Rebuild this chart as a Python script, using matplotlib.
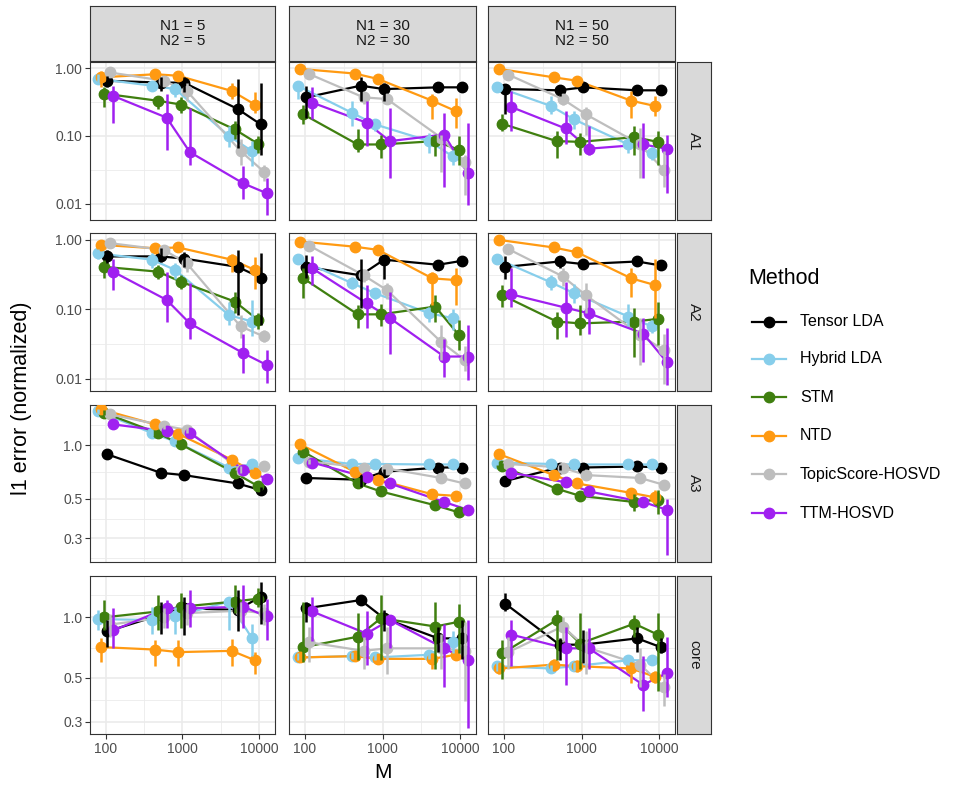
import matplotlib
matplotlib.use("Agg")
import matplotlib.pyplot as plt
from matplotlib.lines import Line2D
import numpy as np

plt.rcParams['font.family'] = ['Liberation Sans', 'DejaVu Sans']

# ---- data: per panel, method -> [mean, lower, upper] over M ----
M = [100, 500, 1000, 5000, 10000]
methods = ["Tensor LDA", "Hybrid LDA", "STM", "NTD", "TopicScore-HOSVD", "TTM-HOSVD"]
row_names = ["A1", "A2", "A3", "core"]
col_names = ["N1 = 5\nN2 = 5", "N1 = 30\nN2 = 30", "N1 = 50\nN2 = 50"]

a1_n5 = {
    "Tensor LDA": [[0.65, 0.61, 0.61, 0.25, 0.148], [0.52, 0.46, 0.44, 0.067, 0.053], [0.77, 0.73, 0.73, 0.69, 0.61]],
    "Hybrid LDA": [[0.69, 0.55, 0.49, 0.10, 0.060], [0.58, 0.46, 0.37, 0.07, 0.036], [0.81, 0.65, 0.61, 0.14, 0.084]],
    "STM": [[0.42, 0.33, 0.29, 0.125, 0.077], [0.27, 0.25, 0.22, 0.089, 0.056], [0.52, 0.39, 0.37, 0.166, 0.099]],
    "NTD": [[0.73, 0.81, 0.77, 0.46, 0.29], [0.52, 0.75, 0.68, 0.35, 0.22], [0.91, 0.87, 0.86, 0.61, 0.44]],
    "TopicScore-HOSVD": [[0.86, 0.65, 0.46, 0.060, 0.030], [0.75, 0.55, 0.33, 0.038, 0.022], [0.95, 0.75, 0.61, 0.089, 0.038]],
    "TTM-HOSVD": [[0.39, 0.186, 0.058, 0.020, 0.0144], [0.157, 0.063, 0.038, 0.012, 0.0069], [0.55, 0.41, 0.26, 0.036, 0.024]],
}
a1_n30 = {
    "Tensor LDA": [[0.37, 0.55, 0.49, 0.52, 0.52], [0.186, 0.33, 0.33, 0.47, 0.47], [0.55, 0.73, 0.61, 0.57, 0.57]],
    "Hybrid LDA": [[0.55, 0.22, 0.148, 0.084, 0.050], [0.35, 0.14, 0.118, 0.056, 0.038], [0.65, 0.33, 0.176, 0.11, 0.063]],
    "STM": [[0.208, 0.075, 0.075, 0.084, 0.063], [0.148, 0.059, 0.048, 0.05, 0.038], [0.29, 0.125, 0.105, 0.105, 0.10]],
    "NTD": [[0.97, 0.83, 0.69, 0.33, 0.233], [0.9, 0.77, 0.62, 0.175, 0.132], [1.04, 0.9, 0.76, 0.41, 0.36]],
    "TopicScore-HOSVD": [[0.815, 0.37, 0.35, 0.094, 0.042], [0.75, 0.3, 0.3, 0.030, 0.0136], [0.88, 0.45, 0.42, 0.105, 0.053]],
    "TTM-HOSVD": [[0.31, 0.157, 0.084, 0.105, 0.0285], [0.176, 0.071, 0.024, 0.018, 0.0097], [0.52, 0.33, 0.26, 0.22, 0.157]],
}
a1_n50 = {
    "Tensor LDA": [[0.49, 0.47, 0.52, 0.47, 0.47], [0.208, 0.39, 0.44, 0.43, 0.40], [0.52, 0.55, 0.61, 0.52, 0.55]],
    "Hybrid LDA": [[0.53, 0.277, 0.175, 0.075, 0.056], [0.46, 0.21, 0.125, 0.056, 0.045], [0.6, 0.39, 0.23, 0.094, 0.07]],
    "STM": [[0.151, 0.084, 0.082, 0.096, 0.082], [0.118, 0.048, 0.053, 0.053, 0.038], [0.208, 0.118, 0.111, 0.14, 0.118]],
    "NTD": [[0.97, 0.73, 0.65, 0.33, 0.277], [0.9, 0.68, 0.6, 0.186, 0.2], [1.04, 0.78, 0.7, 0.46, 0.39]],
    "TopicScore-HOSVD": [[0.80, 0.35, 0.208, 0.075, 0.032], [0.74, 0.29, 0.105, 0.024, 0.018], [0.86, 0.42, 0.27, 0.133, 0.06]],
    "TTM-HOSVD": [[0.267, 0.129, 0.065, 0.075, 0.065], [0.118, 0.075, 0.053, 0.024, 0.0144], [0.46, 0.23, 0.14, 0.157, 0.105]],
}
a2_n5 = {
    "Tensor LDA": [[0.58, 0.58, 0.54, 0.41, 0.287], [0.47, 0.48, 0.41, 0.083, 0.06], [0.72, 0.76, 0.68, 0.72, 0.64]],
    "Hybrid LDA": [[0.64, 0.52, 0.37, 0.083, 0.067], [0.54, 0.39, 0.27, 0.06, 0.041], [0.75, 0.64, 0.46, 0.13, 0.137]],
    "STM": [[0.41, 0.35, 0.25, 0.13, 0.071], [0.28, 0.27, 0.2, 0.088, 0.052], [0.51, 0.44, 0.31, 0.18, 0.088]],
    "NTD": [[0.85, 0.76, 0.78, 0.52, 0.37], [0.72, 0.7, 0.7, 0.35, 0.2], [0.95, 0.82, 0.86, 0.62, 0.57]],
    "TopicScore-HOSVD": [[0.90, 0.72, 0.46, 0.057, 0.041], [0.82, 0.62, 0.35, 0.039, 0.034], [0.98, 0.8, 0.56, 0.083, 0.05]],
    "TTM-HOSVD": [[0.35, 0.137, 0.063, 0.0234, 0.0159], [0.19, 0.067, 0.037, 0.012, 0.0087], [0.54, 0.35, 0.24, 0.045, 0.026]],
}
a2_n30 = {
    "Tensor LDA": [[0.41, 0.31, 0.52, 0.44, 0.50], [0.28, 0.104, 0.27, 0.40, 0.46], [0.61, 0.54, 0.61, 0.48, 0.54]],
    "Hybrid LDA": [[0.54, 0.24, 0.171, 0.088, 0.075], [0.46, 0.2, 0.14, 0.066, 0.05], [0.62, 0.29, 0.2, 0.11, 0.1]],
    "STM": [[0.28, 0.085, 0.085, 0.11, 0.043], [0.145, 0.054, 0.057, 0.067, 0.026], [0.39, 0.116, 0.12, 0.16, 0.07]],
    "NTD": [[0.95, 0.80, 0.72, 0.28, 0.265], [0.88, 0.74, 0.66, 0.116, 0.116], [1.02, 0.86, 0.78, 0.35, 0.39]],
    "TopicScore-HOSVD": [[0.83, 0.31, 0.19, 0.034, 0.0188], [0.76, 0.25, 0.14, 0.019, 0.013], [0.9, 0.38, 0.24, 0.06, 0.03]],
    "TTM-HOSVD": [[0.39, 0.123, 0.075, 0.021, 0.021], [0.226, 0.054, 0.023, 0.0108, 0.0098], [0.58, 0.225, 0.18, 0.037, 0.06]],
}
a2_n50 = {
    "Tensor LDA": [[0.41, 0.49, 0.45, 0.49, 0.43], [0.27, 0.4, 0.41, 0.45, 0.39], [0.58, 0.58, 0.5, 0.53, 0.47]],
    "Hybrid LDA": [[0.54, 0.246, 0.171, 0.079, 0.057], [0.48, 0.19, 0.125, 0.057, 0.046], [0.6, 0.31, 0.23, 0.12, 0.07]],
    "STM": [[0.16, 0.067, 0.063, 0.067, 0.073], [0.11, 0.037, 0.043, 0.021, 0.031], [0.226, 0.093, 0.116, 0.104, 0.13]],
    "NTD": [[1.0, 0.78, 0.665, 0.28, 0.225], [0.93, 0.72, 0.6, 0.153, 0.075], [1.07, 0.84, 0.73, 0.39, 0.54]],
    "TopicScore-HOSVD": [[0.74, 0.30, 0.16, 0.043, 0.026], [0.67, 0.22, 0.09, 0.016, 0.0085], [0.81, 0.4, 0.24, 0.075, 0.045]],
    "TTM-HOSVD": [[0.165, 0.106, 0.088, 0.045, 0.0177], [0.11, 0.04, 0.045, 0.0177, 0.0082], [0.39, 0.25, 0.14, 0.075, 0.054]],
}
a3_n5 = {
    "Tensor LDA": [[0.89, 0.70, 0.68, 0.61, 0.56], [0.86, 0.68, 0.66, 0.59, 0.54], [0.92, 0.72, 0.70, 0.63, 0.58]],
    "Hybrid LDA": [[1.55, 1.17, 1.05, 0.75, 0.78], [1.50, 1.12, 1.01, 0.72, 0.74], [1.60, 1.22, 1.09, 0.78, 0.82]],
    "STM": [[1.52, 1.17, 1.01, 0.70, 0.59], [1.47, 1.12, 0.97, 0.67, 0.56], [1.57, 1.22, 1.05, 0.73, 0.62]],
    "NTD": [[1.59, 1.31, 1.16, 0.83, 0.70], [1.54, 1.26, 1.11, 0.79, 0.66], [1.64, 1.36, 1.21, 0.87, 0.74]],
    "TopicScore-HOSVD": [[1.49, 1.29, 1.22, 0.73, 0.76], [1.44, 1.24, 1.17, 0.70, 0.72], [1.54, 1.34, 1.27, 0.76, 0.80]],
    "TTM-HOSVD": [[1.31, 1.20, 1.17, 0.73, 0.65], [1.26, 1.15, 1.12, 0.69, 0.61], [1.36, 1.25, 1.22, 0.77, 0.69]],
}
a3_n30 = {
    "Tensor LDA": [[0.655, 0.64, 0.71, 0.75, 0.75], [0.63, 0.58, 0.68, 0.73, 0.73], [0.68, 0.68, 0.74, 0.77, 0.77]],
    "Hybrid LDA": [[0.85, 0.785, 0.785, 0.78, 0.78], [0.82, 0.76, 0.76, 0.76, 0.76], [0.88, 0.81, 0.81, 0.80, 0.80]],
    "STM": [[0.92, 0.61, 0.55, 0.46, 0.42], [0.89, 0.59, 0.53, 0.44, 0.40], [0.95, 0.63, 0.57, 0.48, 0.44]],
    "NTD": [[1.01, 0.71, 0.64, 0.53, 0.52], [0.98, 0.69, 0.62, 0.51, 0.50], [1.04, 0.73, 0.66, 0.55, 0.54]],
    "TopicScore-HOSVD": [[0.81, 0.75, 0.74, 0.655, 0.61], [0.78, 0.73, 0.72, 0.63, 0.59], [0.84, 0.77, 0.76, 0.68, 0.63]],
    "TTM-HOSVD": [[0.80, 0.66, 0.61, 0.48, 0.435], [0.77, 0.63, 0.59, 0.45, 0.41], [0.83, 0.69, 0.63, 0.51, 0.46]],
}
a3_n50 = {
    "Tensor LDA": [[0.63, 0.75, 0.75, 0.76, 0.75], [0.61, 0.73, 0.73, 0.74, 0.73], [0.65, 0.77, 0.77, 0.78, 0.77]],
    "Hybrid LDA": [[0.80, 0.785, 0.78, 0.78, 0.78], [0.77, 0.76, 0.76, 0.76, 0.76], [0.83, 0.81, 0.80, 0.80, 0.80]],
    "STM": [[0.76, 0.57, 0.52, 0.48, 0.495], [0.73, 0.55, 0.50, 0.43, 0.41], [0.79, 0.59, 0.54, 0.53, 0.56]],
    "NTD": [[0.89, 0.68, 0.61, 0.54, 0.51], [0.86, 0.66, 0.59, 0.52, 0.47], [0.92, 0.70, 0.63, 0.56, 0.56]],
    "TopicScore-HOSVD": [[0.785, 0.75, 0.68, 0.655, 0.60], [0.76, 0.73, 0.66, 0.63, 0.57], [0.81, 0.77, 0.70, 0.68, 0.63]],
    "TTM-HOSVD": [[0.70, 0.62, 0.55, 0.48, 0.435], [0.67, 0.60, 0.53, 0.45, 0.243], [0.73, 0.64, 0.57, 0.51, 0.50]],
}
core_n5 = {
    "Tensor LDA": [[0.85, 1.03, 1.11, 1.09, 1.27], [0.71, 0.83, 0.82, 0.85, 0.93], [0.97, 1.20, 1.27, 1.37, 1.51]],
    "Hybrid LDA": [[0.98, 0.97, 1.01, 1.20, 0.785], [0.86, 0.83, 0.83, 0.86, 0.64], [1.09, 1.13, 1.13, 1.27, 0.93]],
    "STM": [[1.0, 1.07, 1.13, 1.20, 1.24], [0.86, 0.86, 0.88, 1.05, 1.13], [1.22, 1.29, 1.32, 1.45, 1.40]],
    "NTD": [[0.71, 0.69, 0.67, 0.68, 0.61], [0.60, 0.57, 0.57, 0.57, 0.52], [0.79, 0.77, 0.77, 0.78, 0.67]],
    "TopicScore-HOSVD": [[0.92, 1.0, 1.05, 1.08, 1.05], [0.80, 0.88, 0.92, 0.95, 0.92], [1.04, 1.12, 1.17, 1.20, 1.17]],
    "TTM-HOSVD": [[0.86, 1.11, 1.11, 1.13, 1.01], [0.70, 0.88, 0.90, 0.88, 0.77], [1.11, 1.22, 1.37, 1.45, 1.24]],
}
core_n30 = {
    "Tensor LDA": [[1.11, 1.22, 0.99, 0.785, 0.785], [0.95, 1.15, 0.85, 0.67, 0.62], [1.20, 1.29, 1.09, 0.90, 0.97]],
    "Hybrid LDA": [[0.63, 0.64, 0.63, 0.65, 0.755], [0.61, 0.62, 0.61, 0.62, 0.66], [0.66, 0.67, 0.66, 0.68, 0.85]],
    "STM": [[0.71, 0.80, 0.99, 0.90, 0.95], [0.60, 0.61, 0.61, 0.55, 0.66], [1.20, 1.05, 1.29, 1.20, 1.17]],
    "NTD": [[0.63, 0.64, 0.62, 0.62, 0.65], [0.60, 0.61, 0.59, 0.55, 0.62], [0.66, 0.67, 0.65, 0.66, 0.68]],
    "TopicScore-HOSVD": [[0.75, 0.68, 0.70, 0.70, 0.68], [0.60, 0.55, 0.52, 0.55, 0.38], [0.90, 0.80, 0.90, 0.83, 0.95]],
    "TTM-HOSVD": [[1.07, 0.83, 0.97, 0.70, 0.61], [0.76, 0.58, 0.70, 0.45, 0.28], [1.27, 1.07, 1.03, 0.93, 0.97]],
}
core_n50 = {
    "Tensor LDA": [[1.17, 0.73, 0.73, 0.785, 0.71], [1.07, 0.61, 0.59, 0.67, 0.66], [1.32, 0.785, 0.86, 0.90, 0.785]],
    "Hybrid LDA": [[0.57, 0.555, 0.57, 0.61, 0.61], [0.54, 0.53, 0.54, 0.58, 0.58], [0.60, 0.58, 0.60, 0.64, 0.64]],
    "STM": [[0.66, 0.97, 0.74, 0.93, 0.82], [0.49, 0.61, 0.55, 0.80, 0.43], [0.77, 1.09, 1.05, 1.03, 1.05]],
    "NTD": [[0.555, 0.58, 0.57, 0.555, 0.505], [0.52, 0.54, 0.53, 0.47, 0.47], [0.59, 0.62, 0.61, 0.60, 0.54]],
    "TopicScore-HOSVD": [[0.67, 0.90, 0.71, 0.58, 0.45], [0.55, 0.75, 0.52, 0.45, 0.36], [0.80, 1.0, 0.85, 0.70, 0.52]],
    "TTM-HOSVD": [[0.82, 0.70, 0.70, 0.46, 0.525], [0.57, 0.46, 0.55, 0.34, 0.40], [0.97, 0.90, 0.88, 0.64, 0.80]],
}

panels = [[a1_n5, a1_n30, a1_n50],
          [a2_n5, a2_n30, a2_n50],
          [a3_n5, a3_n30, a3_n50],
          [core_n5, core_n30, core_n50]]

# ---- styling ----
colors = {"Tensor LDA": "black", "Hybrid LDA": "#87CEEB", "STM": "#3F7F0F",
          "NTD": "#FF9A12", "TopicScore-HOSVD": "#BEBEBE", "TTM-HOSVD": "#A020F0"}
dodge_pos = {"Hybrid LDA": -2.5, "NTD": -1.5, "STM": -0.5, "Tensor LDA": 0.5,
             "TopicScore-HOSVD": 1.5, "TTM-HOSVD": 2.5}
dodge_step = 0.038

y_limits = [(0.0058, 1.227), (0.0067, 1.26), (0.221, 1.683), (0.261, 1.61)]
y_ticks = [[0.01, 0.1, 1.0], [0.01, 0.1, 1.0], [0.3, 0.5, 1.0], [0.3, 0.5, 1.0]]
y_ticklabels = [["0.01", "0.10", "1.00"], ["0.01", "0.10", "1.00"],
                ["0.3", "0.5", "1.0"], ["0.3", "0.5", "1.0"]]
y_minor = [[10**-1.5, 10**-0.5], [10**-1.5, 10**-0.5],
           [10**-0.634, 10**-0.412, 10**-0.151, 10**0.111],
           [10**-0.412, 10**-0.151, 10**0.111]]

W, H = 975, 793
fig = plt.figure(figsize=(W / 100, H / 100), dpi=100)

col_x = [(90, 275), (289, 476), (488, 675)]
row_y = [(62, 220), (233, 391), (405, 562), (576, 734)]
strip_top = (6, 61)
strip_right = (677, 711)

edge = "#333333"
grid_c = "#EBEBEB"
strip_fill = "#D9D9D9"


def px_rect(x0, y0, x1, y1):
    return [x0 / W, 1 - y1 / H, (x1 - x0) / W, (y1 - y0) / H]


def strip_axes(x0, y0, x1, y1):
    sax = fig.add_axes(px_rect(x0, y0, x1, y1))
    sax.set_xticks([])
    sax.set_yticks([])
    sax.set_facecolor(strip_fill)
    for sp in sax.spines.values():
        sp.set_color(edge)
        sp.set_linewidth(0.8)
    return sax


xlim = (10**1.7955, 10**4.2045)

for r in range(4):
    for c in range(3):
        x0, x1 = col_x[c]
        y0, y1 = row_y[r]
        ax = fig.add_axes(px_rect(x0, y0, x1, y1))
        ax.set_xscale('log')
        ax.set_yscale('log')
        ax.set_xlim(*xlim)
        ax.set_ylim(*y_limits[r])
        ax.minorticks_off()

        # grid
        for v in [10**2.5, 10**3.5]:
            ax.axvline(v, color=grid_c, lw=0.6, zorder=0)
        for v in [100, 1000, 10000]:
            ax.axvline(v, color=grid_c, lw=1.2, zorder=0)
        for v in y_minor[r]:
            ax.axhline(v, color=grid_c, lw=0.6, zorder=0)
        for v in y_ticks[r]:
            ax.axhline(v, color=grid_c, lw=1.2, zorder=0)

        data = panels[r][c]
        for m in methods:
            mean, lo, hi = data[m]
            xs = np.array(M) * 10 ** (dodge_pos[m] * dodge_step)
            ax.plot(xs, mean, '-', color=colors[m], lw=1.6, zorder=2)
        for m in methods:
            mean, lo, hi = data[m]
            xs = np.array(M) * 10 ** (dodge_pos[m] * dodge_step)
            ax.plot(xs, mean, 'o', color=colors[m], ms=7.5, zorder=3)
        for m in methods:
            mean, lo, hi = data[m]
            xs = np.array(M) * 10 ** (dodge_pos[m] * dodge_step)
            ax.vlines(xs, lo, hi, color=colors[m], lw=1.8, zorder=4)

        for sp in ax.spines.values():
            sp.set_color(edge)
            sp.set_linewidth(0.8)

        ax.tick_params(axis='both', which='major', length=3.5, width=0.8, color=edge,
                       labelsize=10, labelcolor="#4D4D4D", pad=2)
        ax.set_yticks(y_ticks[r])
        ax.set_xticks([100, 1000, 10000])
        if c == 0:
            ax.set_yticklabels(y_ticklabels[r])
        else:
            ax.set_yticklabels([])
            ax.tick_params(axis='y', length=0)
        if r == 3:
            ax.set_xticklabels(["100", "1000", "10000"])
        else:
            ax.set_xticklabels([])
            ax.tick_params(axis='x', length=0)

        if r == 0:
            sax = strip_axes(x0, strip_top[0], x1, strip_top[1])
            sax.text(0.5, 0.5, col_names[c], ha='center', va='center', fontsize=11,
                     color="#1A1A1A", transform=sax.transAxes, linespacing=1.1)
        if c == 2:
            sax = strip_axes(strip_right[0], y0, strip_right[1], y1)
            sax.text(0.5, 0.5, row_names[r], ha='center', va='center', fontsize=11,
                     color="#1A1A1A", rotation=-90, transform=sax.transAxes)

# axis titles
fig.text(383 / W, 1 - 773 / H, "M", ha='center', va='center', fontsize=15, color="black")
fig.text(22 / W, 1 - 398 / H, "l1 error (normalized)", ha='center', va='center',
         rotation=90, fontsize=15.5, color="black")

# legend
fig.text(748 / W, 1 - 279 / H, "Method", ha='left', va='center', fontsize=15.5, color="black")
leg_y = [322, 359, 397, 436, 474, 513]
for m, yy in zip(methods, leg_y):
    yf = 1 - yy / H
    fig.add_artist(Line2D([752 / W, 786 / W], [yf, yf], color=colors[m], lw=1.6))
    fig.add_artist(Line2D([769 / W], [yf], marker='o', color=colors[m], ms=7.5, lw=0))
    fig.text(800 / W, yf, m, ha='left', va='center', fontsize=11.5, color="black")

fig.savefig("out.png", dpi=100, facecolor="white")
